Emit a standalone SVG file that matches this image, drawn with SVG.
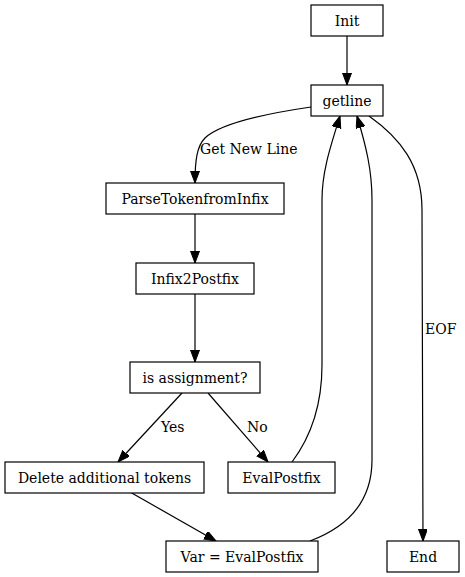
<svg xmlns="http://www.w3.org/2000/svg" width="465" height="577" viewBox="0 0 465 577">
<defs>
<marker id="ah" markerUnits="userSpaceOnUse" markerWidth="13" markerHeight="11" refX="12" refY="4.5" orient="auto">
<path d="M0,0 L12,4.5 L0,9 z" fill="#000" stroke="#000" stroke-width="1"/>
</marker>
<style>
.n rect{fill:#fff;stroke:#000;stroke-width:1.2}
.n text{text-anchor:middle}
.e path{fill:none;stroke:#000;stroke-width:1.2;marker-end:url(#ah)}
text{font-family:"DejaVu Serif","Liberation Serif",serif}
</style>
</defs>
<rect width="465" height="577" fill="#fff"/>
<g font-size="14" fill="#000">
<g class="e" id="edges">
<path d="M347,36 L347,85"/>
<path d="M311,107 C270,113 222,122 205,138 C197,146 195,160 195,183"/>
<path d="M195,214 L195,263"/>
<path d="M195,294 L195,362"/>
<path d="M182,393 L118,462"/>
<path d="M208,393 L268,462"/>
<path d="M130,492 L216,541"/>
<path d="M292,462 C310,438 322,405 322,365 L322,200 C322,172 330,148 340,116"/>
<path d="M310,541 C350,526 372,500 372,460 L372,200 C372,170 366,146 357,116"/>
<path d="M369,116 C400,138 422,165 422,210 L423,541"/>
<text x="200" y="154">Get New Line</text>
<text x="161" y="432">Yes</text>
<text x="247" y="432">No</text>
<text x="425" y="334">EOF</text>
</g>
<g class="n" id="init"><rect x="311" y="5" width="72" height="31"/><text x="347" y="26">Init</text></g>
<g class="n" id="getline"><rect x="311" y="85" width="72" height="31"/><text x="347" y="106">getline</text></g>
<g class="n" id="parse"><rect x="106" y="183" width="178" height="31"/><text x="195" y="204">ParseTokenfromInfix</text></g>
<g class="n" id="infix2postfix"><rect x="136" y="263" width="118" height="31"/><text x="195" y="284">Infix2Postfix</text></g>
<g class="n" id="isassign"><rect x="130" y="362" width="130" height="31"/><text x="195" y="383">is assignment?</text></g>
<g class="n" id="delete"><rect x="5" y="462" width="199" height="31"/><text x="104.5" y="483">Delete additional tokens</text></g>
<g class="n" id="evalpostfix"><rect x="228" y="462" width="107" height="31"/><text x="281.5" y="483">EvalPostfix</text></g>
<g class="n" id="var"><rect x="166" y="541" width="152" height="31"/><text x="242" y="562">Var = EvalPostfix</text></g>
<g class="n" id="end"><rect x="387" y="541" width="72" height="31"/><text x="423" y="562">End</text></g>
</g>
</svg>
